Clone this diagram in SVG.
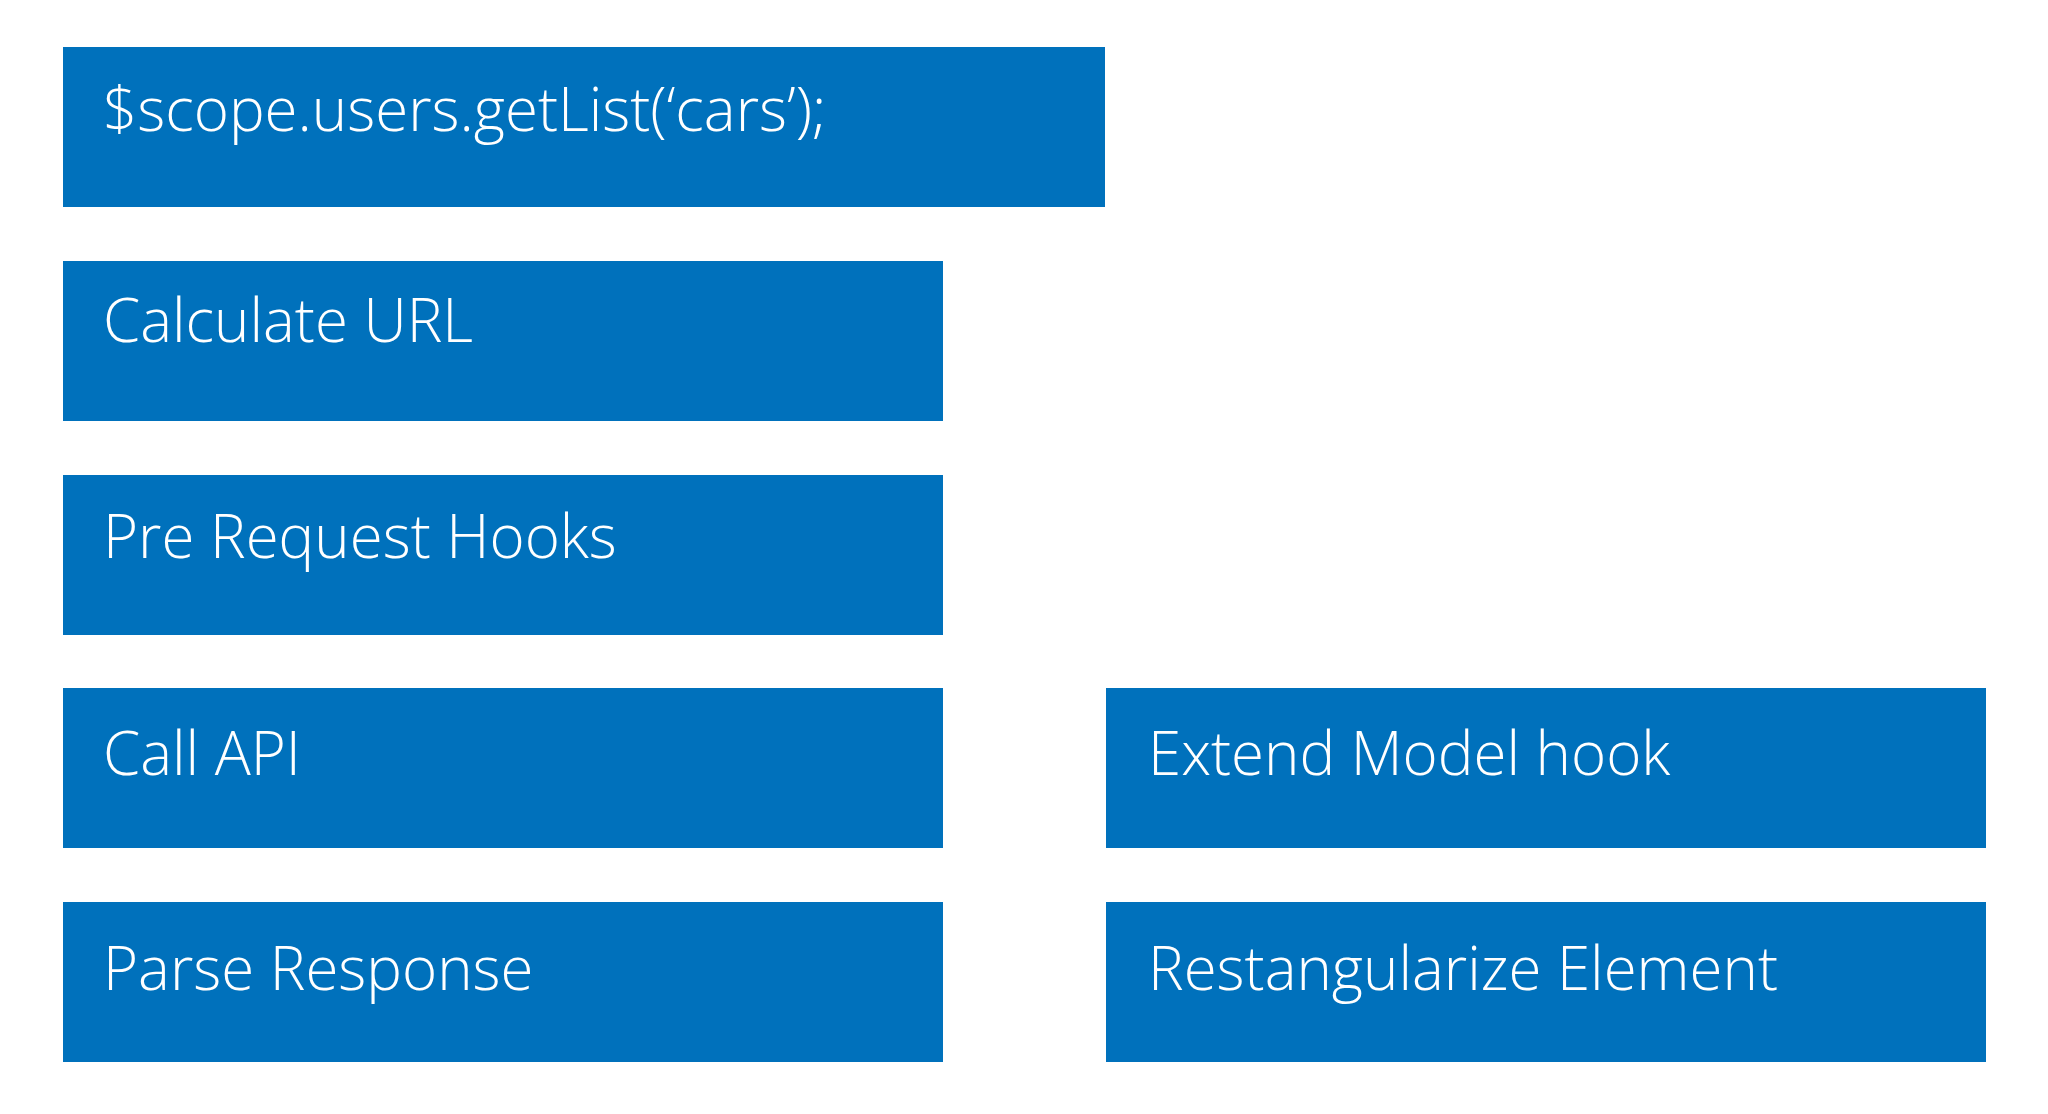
<svg xmlns="http://www.w3.org/2000/svg" width="2048" height="1114" viewBox="0 0 2048 1114">
<style>
.box{fill:#0071BC}
.lbl{font-family:"Open Sans","Liberation Sans",sans-serif;font-weight:300;font-size:60px;fill:#ffffff}
</style>
<rect width="2048" height="1114" fill="#ffffff"/>
<g id="n1"><rect class="box" x="63" y="47" width="1042" height="160"/><text class="lbl" x="103" y="131">$scope.users.getList(‘cars’);</text></g>
<g id="n2"><rect class="box" x="63" y="261" width="880" height="160"/><text class="lbl" x="103" y="342">Calculate URL</text></g>
<g id="n3"><rect class="box" x="63" y="475" width="880" height="160"/><text class="lbl" x="103" y="558">Pre Request Hooks</text></g>
<g id="n4"><rect class="box" x="63" y="688" width="880" height="160"/><text class="lbl" x="103" y="775">Call API</text></g>
<g id="n5"><rect class="box" x="63" y="902" width="880" height="160"/><text class="lbl" x="103" y="990">Parse Response</text></g>
<g id="n6"><rect class="box" x="1106" y="688" width="880" height="160"/><text class="lbl" x="1148" y="775">Extend Model hook</text></g>
<g id="n7"><rect class="box" x="1106" y="902" width="880" height="160"/><text class="lbl" x="1148" y="990">Restangularize Element</text></g>
<g id="connectors"></g>
</svg>
